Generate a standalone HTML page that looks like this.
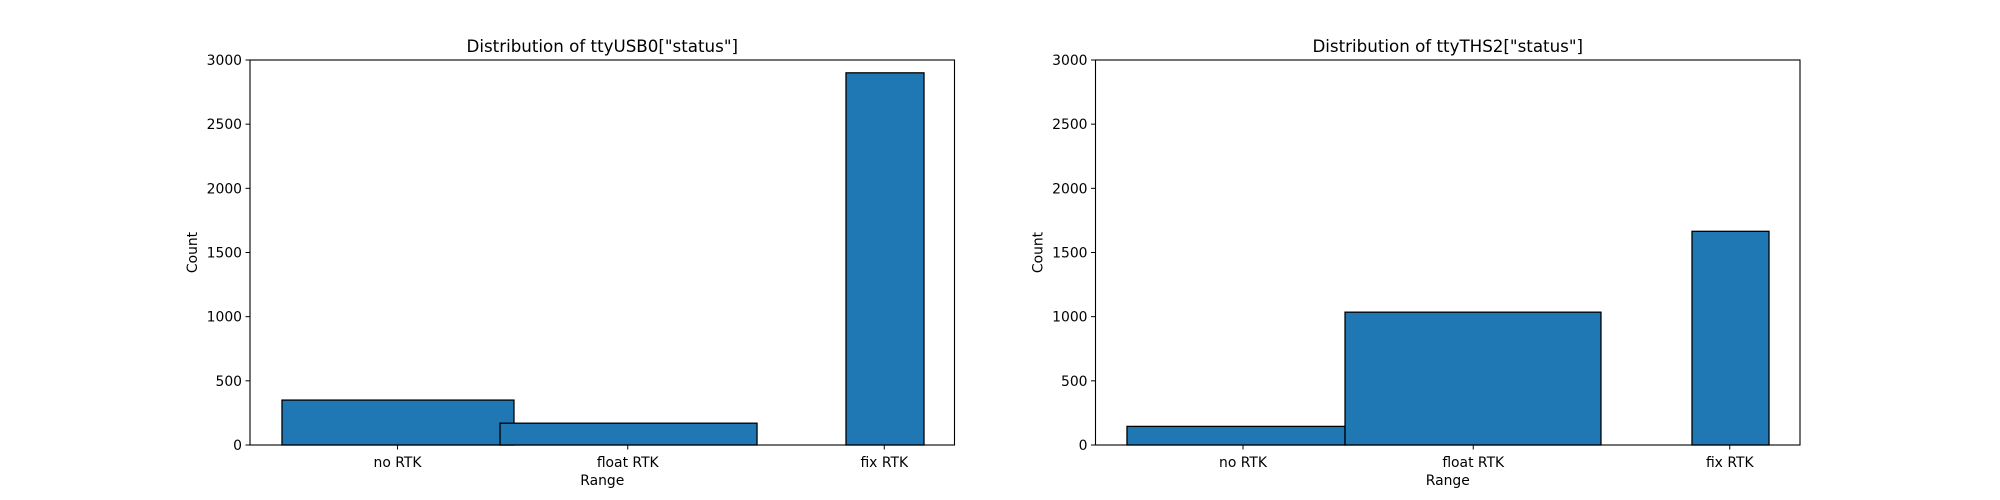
<!DOCTYPE html>
<html><head><meta charset="utf-8"><style>
html,body{margin:0;padding:0;background:#fff}
svg{display:block;font-family:"DejaVu Sans","Liberation Sans",sans-serif}
</style></head><body>
<svg id="fig" width="2000" height="500" viewBox="0 0 2000 500"></svg>
<script>
const categories = ["no RTK", "float RTK", "fix RTK"];
const usb0Counts = [350, 170, 2900];
const ths2Counts = [145, 1035, 1665];
const usb0Left = [4.54, 35.49, 84.6];
const usb0Right = [37.47, 71.97, 95.67];
const ths2Left = [4.47, 35.42, 84.67];
const ths2Right = [35.42, 71.75, 95.6];
const tickPos = [20.94, 53.62, 90.03];
const yTicks = [0, 500, 1000, 1500, 2000, 2500, 3000];
const yMax = 3000;

const NS = "http://www.w3.org/2000/svg";
const svg = document.getElementById("fig");
function mk(tag, attrs, parent) {
  const e = document.createElementNS(NS, tag);
  for (const k in attrs) e.setAttribute(k, attrs[k]);
  (parent || svg).appendChild(e);
  return e;
}
function drawChart(x0, title, counts, lefts, rights, key) {
  const x1 = x0 + 704.5, yTop = 60, yBot = 445;
  const g = mk("g", {});
  
  
  const sx = v => x0 + v / 100 * (x1 - x0);
  const sy = v => yBot - v / yMax * (yBot - yTop);
  for (let i = 0; i < counts.length; i++) {
    const r = mk("rect", {x: sx(lefts[i]), y: sy(counts[i]), width: sx(rights[i]) - sx(lefts[i]), height: sy(0) - sy(counts[i]), fill: "#1f77b4", stroke: "#000", "stroke-width": 1.3}, g);
    
    
  }
  const frame = mk("rect", {x: x0, y: yTop, width: x1 - x0, height: yBot - yTop, fill: "none", stroke: "#000", "stroke-width": 1.1}, g);
  
  
  for (const t of yTicks) {
    const y = sy(t);
    mk("line", {x1: x0 - 4.5, x2: x0, y1: y, y2: y, stroke: "#000", "stroke-width": 1}, g);
    const tx = mk("text", {x: x0 - 8, y: y + 5, "text-anchor": "end", "font-size": 13.9}, g);
    tx.textContent = t;
    
    
  }
  for (let i = 0; i < categories.length; i++) {
    const x = sx(tickPos[i]);
    mk("line", {x1: x, x2: x, y1: yBot, y2: yBot + 4.5, stroke: "#000", "stroke-width": 1}, g);
    const tx = mk("text", {x: x, y: yBot + 22, "text-anchor": "middle", "font-size": 13.9}, g);
    tx.textContent = categories[i];
    
    
  }
  const tt = mk("text", {x: (x0 + x1) / 2, y: yTop - 8, "text-anchor": "middle", "font-size": 16.7}, g);
  tt.textContent = title;
  
  
  const xl = mk("text", {x: (x0 + x1) / 2, y: yBot + 40, "text-anchor": "middle", "font-size": 13.9}, g);
  xl.textContent = "Range";
  
  
  const yl = mk("text", {x: 0, y: 0, "text-anchor": "middle", "font-size": 13.9, transform: "translate(" + (x0 - 53) + "," + ((yTop + yBot) / 2) + ") rotate(-90)"}, g);
  yl.textContent = "Count";
  
  
}
drawChart(250, 'Distribution of ttyUSB0["status"]', usb0Counts, usb0Left, usb0Right, 'usb0');
drawChart(1095.5, 'Distribution of ttyTHS2["status"]', ths2Counts, ths2Left, ths2Right, 'ths2');
</script>
</body></html>
